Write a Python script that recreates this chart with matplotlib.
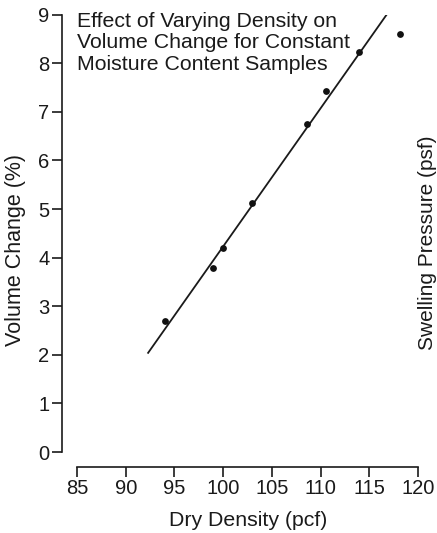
import matplotlib
matplotlib.use("Agg")
import matplotlib.pyplot as plt

plt.rcParams['font.family'] = ['Liberation Sans', 'DejaVu Sans']

dry_density = [94.0, 99.0, 100.0, 103.0, 108.6, 110.6, 113.95, 118.2]
volume_change = [2.70, 3.79, 4.20, 5.13, 6.75, 7.42, 8.24, 8.61]
fit_x = [92.3, 117.1]
fit_y = [2.04, 9.09]
x_ticks = [85, 90, 95, 100, 105, 110, 115, 120]
y_ticks = [0, 1, 2, 3, 4, 5, 6, 7, 8, 9]

fig = plt.figure(figsize=(4.37, 5.33), dpi=100)
W, H = 437, 533
left, right, top, bottom = 77, 418, 14.6, 452
ax = fig.add_axes([left / W, 1 - bottom / H, (right - left) / W, (bottom - top) / H])

ax.plot(fit_x, fit_y, color='#1a1a1a', lw=1.3, zorder=2)
ax.scatter(dry_density, volume_change, s=24, color='#111111', zorder=3, linewidths=0)

ax.set_xlim(85, 120)
ax.set_ylim(0, 9)
ax.set_xticks(x_ticks)
ax.set_yticks(y_ticks)

for s in ['top', 'right']:
    ax.spines[s].set_visible(False)
for s in ['left', 'bottom']:
    ax.spines[s].set_position(('outward', 10.8))
    ax.spines[s].set_linewidth(1.2)
    ax.spines[s].set_color('#1a1a1a')

ax.tick_params(direction='out', length=7, width=1.2, colors='#1a1a1a',
               labelsize=14.5, pad=2, labelcolor='#1a1a1a')

fig.text(248 / W, 1 - 526 / H, 'Dry Density (pcf)', fontsize=15.3,
         ha='center', va='baseline', color='#1a1a1a')
fig.text(16 / W, 1 - 250 / H, 'Volume Change (%)', fontsize=15.5, rotation=90,
         ha='center', va='center', color='#1a1a1a')

ax.text(84.95, 9.06, 'Effect of Varying Density on\nVolume Change for Constant\nMoisture Content Samples',
        fontsize=15.3, va='top', ha='left', linespacing=1.18, color='#1a1a1a')

fig.text(418 / W, 1 - 243 / H, 'Swelling Pressure (psf)', rotation=90,
         fontsize=15, ha='left', va='center', color='#1a1a1a')

fig.savefig('out.png', dpi=100)
